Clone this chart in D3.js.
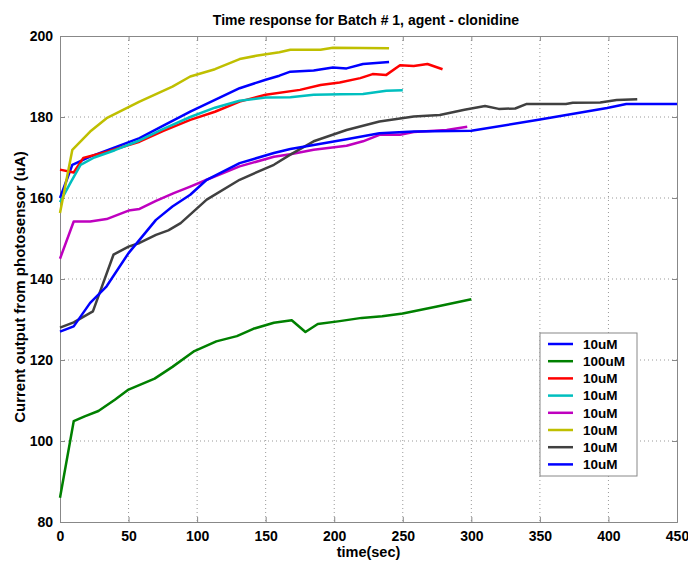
<!DOCTYPE html>
<html lang="en">
<head>
<meta charset="UTF-8">
<title>Time response for Batch # 1</title>
<script src="https://d3js.org/d3.v7.min.js"></script>
<style>
  body { margin: 0; background: #fff; }
  svg text { font-family: "Liberation Sans", Arial, sans-serif; }
</style>
</head>
<body>
<svg width="688" height="562"></svg>
<script>
// series data: [time (sec), current (uA)]
var blue1 = [[0,160],[9,168.2],[22,170.2],[40,172.5],[58,174.8],[75,177.8],[95,181.3],[113,184.2],[131,187.1],[150,189.2],[160,190.2],[168,191.2],[185,191.5],[199,192.2],[209,192],[221,193.1],[240,193.6]];
var green100 = [[0,86],[10,104.9],[18,106.1],[28,107.4],[40,110.2],[50,112.7],[69,115.4],[82,118.3],[98,122.2],[114,124.6],[129,125.9],[141,127.7],[156,129.2],[169,129.8],[179,126.9],[188,128.9],[204,129.6],[220,130.4],[235,130.8],[250,131.5],[275,133.2],[300,135]];
var red1 = [[0,167],[10,166.3],[17,169.9],[35,171.5],[58,173.9],[75,176.5],[95,179.3],[113,181.3],[131,183.8],[150,185.5],[175,186.7],[190,187.9],[204,188.5],[219,189.6],[228,190.6],[238,190.4],[248,192.8],[258,192.6],[268,193.1],[279,191.8]];
var cyan1 = [[0,159],[8,164],[15,168.2],[25,170],[40,171.8],[58,174.2],[75,177],[95,180],[113,182.3],[131,184],[150,184.8],[168,184.9],[185,185.5],[205,185.6],[221,185.7],[238,186.5],[250,186.6]];
var magenta1 = [[0,145],[10,154.2],[22,154.2],[34,154.8],[50,156.9],[58,157.3],[70,159.3],[83,161.2],[95,162.8],[107,164.5],[131,167.8],[156,170.2],[168,170.8],[185,171.9],[209,172.9],[221,174],[233,175.6],[248,175.6],[258,176.3],[282,176.8],[297,177.6]];
var yellow1 = [[0,156.3],[9,171.9],[22,176.4],[34,179.7],[58,183.8],[82,187.5],[95,190],[113,191.8],[131,194.3],[143,195.1],[160,196],[168,196.6],[190,196.6],[199,197.1],[240,197]];
var black1 = [[0,128],[10,129.3],[24,132],[39,146],[50,148],[58,148.9],[70,150.9],[79,152],[88,153.8],[107,159.6],[131,164.5],[156,168.2],[168,170.7],[185,174],[209,176.8],[233,178.9],[258,180.1],[277,180.5],[295,181.8],[310,182.7],[320,182],[332,182.1],[340,183.2],[369,183.2],[374,183.5],[394,183.6],[406,184.2],[421,184.4]];
var blue2 = [[0,127],[10,128.3],[22,134.1],[34,138.2],[50,146.4],[70,154.6],[82,157.9],[95,160.8],[107,164.5],[131,168.6],[156,171.1],[168,172.1],[185,173.1],[209,174.5],[233,176],[258,176.4],[300,176.6],[349,179.3],[399,182.2],[413,183.2],[450,183.2]];

var seriesNames = ["10uM", "100uM", "10uM", "10uM", "10uM", "10uM", "10uM", "10uM"];
var seriesColors = ["#0000ff", "#008000", "#ff0000", "#00bfbf", "#bf00bf", "#bfbf00", "#404040", "#0000ff"];
var allSeries = [blue1, green100, red1, cyan1, magenta1, yellow1, black1, blue2];

var xTicks = [0, 50, 100, 150, 200, 250, 300, 350, 400, 450];
var yTicks = [80, 100, 120, 140, 160, 180, 200];

var svg = d3.select("svg"),
    margin = {top: 36, right: 11, bottom: 40, left: 60},
    width = 688 - margin.left - margin.right,
    height = 562 - margin.top - margin.bottom,
    g = svg.append("g").attr("transform", "translate(" + margin.left + "," + margin.top + ")");

var x = d3.scaleLinear().domain([0, 450]).range([0, width]);
var y = d3.scaleLinear().domain([80, 200]).range([height, 0]);

// grid
g.append("g").selectAll("line")
    .data(xTicks.slice(1, -1))
    .enter().append("line")
    .attr("x1", x).attr("x2", x)
    .attr("y1", 0).attr("y2", height)
    .attr("stroke", "#999").attr("stroke-dasharray", "1,3");

g.append("g").selectAll("line")
    .data(yTicks.slice(1, -1))
    .enter().append("line")
    .attr("y1", y).attr("y2", y)
    .attr("x1", 0).attr("x2", width)
    .attr("stroke", "#999").attr("stroke-dasharray", "1,3");

// axes
g.append("g")
    .attr("transform", "translate(0," + height + ")")
    .call(d3.axisBottom(x).tickValues(xTicks).tickSize(-5).tickPadding(9));
g.append("g")
    .call(d3.axisLeft(y).tickValues(yTicks).tickSize(-5).tickPadding(7));
g.append("g")
    .call(d3.axisTop(x).tickValues(xTicks).tickSize(-5).tickFormat(""));
g.append("g")
    .attr("transform", "translate(" + width + ",0)")
    .call(d3.axisRight(y).tickValues(yTicks).tickSize(-5).tickFormat(""));

g.selectAll(".domain").attr("stroke", "#888");
g.selectAll(".tick line").attr("stroke", "#888");
g.selectAll(".tick text")
    .attr("fill", "#000")
    .style("font-size", "14px")
    .style("font-weight", "bold");

// lines
var line = d3.line()
    .x(function(d) { return x(d[0]); })
    .y(function(d) { return y(d[1]); });

g.append("g").selectAll("path")
    .data(allSeries)
    .enter().append("path")
    .attr("fill", "none")
    .attr("stroke", function(d, i) { return seriesColors[i]; })
    .attr("stroke-width", 2.5)
    .attr("stroke-linejoin", "round")
    .attr("d", line);

// title and labels
svg.append("text")
    .attr("x", 366)
    .attr("y", 25)
    .attr("text-anchor", "middle")
    .style("font-size", "14px")
    .style("font-weight", "bold")
    .text("Time response for Batch # 1, agent - clonidine");

svg.append("text")
    .attr("x", margin.left + width / 2)
    .attr("y", 557)
    .attr("text-anchor", "middle")
    .style("font-size", "14.5px")
    .style("font-weight", "bold")
    .text("time(sec)");

svg.append("text")
    .attr("transform", "translate(25," + (margin.top + height / 2 + 8) + ")rotate(-90)")
    .attr("text-anchor", "middle")
    .style("font-size", "15px")
    .style("font-weight", "bold")
    .text("Current output from photosensor (uA)");

// legend
var legend = svg.append("g").attr("transform", "translate(540,333)");
legend.append("rect")
    .attr("width", 97).attr("height", 143)
    .attr("fill", "#fff").attr("stroke", "#888");

var item = legend.selectAll("g")
    .data(seriesNames)
    .enter().append("g")
    .attr("transform", function(d, i) { return "translate(0," + (11 + i * 17.2) + ")"; });

item.append("line")
    .attr("x1", 8).attr("x2", 33)
    .attr("stroke", function(d, i) { return seriesColors[i]; })
    .attr("stroke-width", 2.5);

item.append("text")
    .attr("x", 43)
    .attr("dy", "0.35em")
    .style("font-size", "13.5px")
    .style("font-weight", "bold")
    .text(function(d) { return d; });
</script>
</body>
</html>
